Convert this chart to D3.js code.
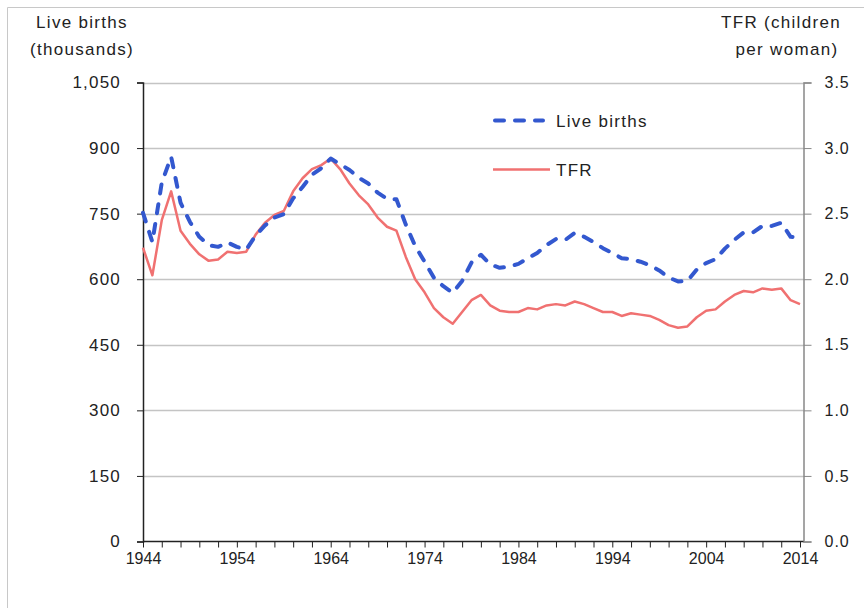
<!DOCTYPE html>
<html lang="en">
<head>
<meta charset="utf-8">
<title>Live births and TFR</title>
<script src="https://d3js.org/d3.v7.min.js"></script>
<style>
  body { margin: 0; background: #fff; }
  svg text { font-family: 'Liberation Sans', Arial, sans-serif; fill: #222; }
</style>
</head>
<body>
<div id="chart"></div>
<script>
// data
var years = d3.range(1944, 2015);
var births = [752, 685, 821, 880, 775, 731, 697, 678, 674, 684,
              674, 668, 700, 723, 741, 749, 785, 811, 839, 854,
              876, 863, 850, 832, 819, 798, 784, 783, 725, 676,
              640, 603, 584, 569, 596, 638, 656, 634, 626, 629,
              635, 648, 660, 678, 692, 690, 706, 697, 685, 671,
              660, 648, 646, 640, 632, 620, 604, 595, 596, 622,
              637, 646, 670, 690, 707, 707, 722, 722, 729, 697,
              696];
var tfr = [2.24, 2.03, 2.45, 2.67, 2.37, 2.27, 2.19, 2.14, 2.15, 2.21,
           2.20, 2.21, 2.34, 2.43, 2.49, 2.52, 2.67, 2.77, 2.84, 2.87,
           2.92, 2.84, 2.73, 2.64, 2.57, 2.47, 2.40, 2.37, 2.17, 2.00,
           1.90, 1.78, 1.71, 1.66, 1.75, 1.84, 1.88, 1.80, 1.76, 1.75,
           1.75, 1.78, 1.77, 1.80, 1.81, 1.80, 1.83, 1.81, 1.78, 1.75,
           1.75, 1.72, 1.74, 1.73, 1.72, 1.69, 1.65, 1.63, 1.64, 1.71,
           1.76, 1.77, 1.83, 1.88, 1.91, 1.90, 1.93, 1.92, 1.93, 1.84,
           1.81];
var birthTicks = [0, 150, 300, 450, 600, 750, 900, 1050];
var tfrTicks = [0, 0.5, 1.0, 1.5, 2.0, 2.5, 3.0, 3.5];
var yearLabels = [1944, 1954, 1964, 1974, 1984, 1994, 2004, 2014];

var width = 864, height = 608;
var plotLeft = 143, plotRight = 803.5, plotTop = 82.5, plotBottom = 541.5;

var svg = d3.select("#chart").append("svg")
    .attr("width", width)
    .attr("height", height);

// outer frame (only top and left edges are visible)
svg.append("path")
    .attr("d", "M7.5," + height + "V7.5H" + width)
    .attr("fill", "none")
    .attr("stroke", "#c8c8c8");

var x = d3.scaleLinear().domain([1944, 2014]).range([plotLeft, 800]);
var yL = d3.scaleLinear().domain([0, 1050]).range([plotBottom, plotTop]);
var yR = d3.scaleLinear().domain([0, 3.5]).range([plotBottom, plotTop]);

// gridlines
svg.append("g").selectAll("line")
    .data(birthTicks.slice(1))
    .enter().append("line")
    .attr("x1", plotLeft).attr("x2", plotRight)
    .attr("y1", function(d) { return Math.round(yL(d)) + 0.5; })
    .attr("y2", function(d) { return Math.round(yL(d)) + 0.5; })
    .attr("stroke", "#c4c4c4")
    .attr("stroke-width", 1.5);

// left axis
var leftAxis = svg.append("g")
    .attr("transform", "translate(" + plotLeft + ",0)")
    .call(d3.axisLeft(yL).tickValues(birthTicks).tickSize(6).tickPadding(16)
        .tickFormat(d3.format(",")));
leftAxis.select(".domain").attr("stroke", "#222").attr("stroke-width", 1.5);
leftAxis.selectAll(".tick line").attr("stroke", "#222");
leftAxis.selectAll("text").attr("font-size", 17).attr("letter-spacing", 1.2)
    .attr("font-family", "'Liberation Sans', Arial, sans-serif").attr("fill", "#222");

// right axis
var rightAxis = svg.append("g")
    .attr("transform", "translate(" + plotRight + ",0)")
    .call(d3.axisRight(yR).tickValues(tfrTicks).tickSize(8).tickPadding(13)
        .tickFormat(d3.format(".1f")));
rightAxis.select(".domain").attr("stroke", "#888").attr("stroke-width", 1.5);
rightAxis.selectAll(".tick line").attr("stroke", "#888");
rightAxis.selectAll("text").attr("font-size", 16).attr("letter-spacing", 1)
    .attr("font-family", "'Liberation Sans', Arial, sans-serif").attr("fill", "#333");

// bottom axis
var bottomAxis = svg.append("g")
    .attr("transform", "translate(0," + plotBottom + ")")
    .call(d3.axisBottom(x).tickValues(d3.range(1944, 2015, 2)).tickSize(6).tickPadding(5)
        .tickFormat(function(d) { return yearLabels.indexOf(d) >= 0 ? d : ""; }));
bottomAxis.select(".domain").attr("stroke", "#222").attr("stroke-width", 1.5)
    .attr("d", "M" + plotLeft + ",0H" + plotRight);
bottomAxis.selectAll(".tick line").attr("stroke", "#222");
bottomAxis.selectAll("text").attr("font-size", 16)
    .attr("font-family", "'Liberation Sans', Arial, sans-serif").attr("fill", "#222");

// axis titles
var tl = svg.append("text").attr("text-anchor", "middle").attr("font-size", 17)
    .attr("letter-spacing", 1.3);
tl.append("tspan").attr("x", 82).attr("y", 28).text("Live births");
tl.append("tspan").attr("x", 82).attr("y", 55).text("(thousands)");
var tr = svg.append("text").attr("text-anchor", "middle").attr("font-size", 17)
    .attr("letter-spacing", 1.3);
tr.append("tspan").attr("x", 781).attr("y", 28).text("TFR (children");
tr.append("tspan").attr("x", 787).attr("y", 55).text("per woman)");

// lines
var birthLine = d3.line()
    .x(function(d, i) { return x(years[i]); })
    .y(function(d) { return yL(d); });
var tfrLine = d3.line()
    .x(function(d, i) { return x(years[i]); })
    .y(function(d) { return yR(d); });

svg.append("path")
    .datum(tfr)
    .attr("d", tfrLine)
    .attr("fill", "none")
    .attr("stroke", "#f07171")
    .attr("stroke-width", 2.5)
    .attr("stroke-linejoin", "round");

svg.append("path")
    .datum(births)
    .attr("d", birthLine)
    .attr("fill", "none")
    .attr("stroke", "#3358cf")
    .attr("stroke-width", 4)
    .attr("stroke-linecap", "round")
    .attr("stroke-linejoin", "round")
    .attr("stroke-dasharray", "9,11");

// legend
var legend = svg.append("g");
legend.append("line")
    .attr("x1", 495).attr("x2", 543).attr("y1", 120.5).attr("y2", 120.5)
    .attr("stroke", "#3358cf").attr("stroke-width", 4)
    .attr("stroke-linecap", "round").attr("stroke-dasharray", "9,11");
legend.append("text").attr("x", 556).attr("y", 127).attr("font-size", 17)
    .attr("letter-spacing", 1.3).text("Live births");
legend.append("line")
    .attr("x1", 493).attr("x2", 550).attr("y1", 169.5).attr("y2", 169.5)
    .attr("stroke", "#f07171").attr("stroke-width", 2.5);
legend.append("text").attr("x", 556).attr("y", 176).attr("font-size", 17)
    .attr("letter-spacing", 1.3).text("TFR");
</script>
</body>
</html>
